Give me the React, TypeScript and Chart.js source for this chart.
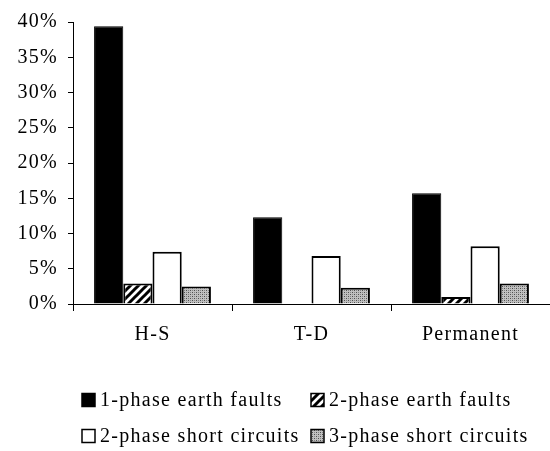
import { useEffect, useRef } from 'react';
import { Chart, registerables } from 'chart.js';

Chart.register(...registerables);

const categories = ['H-S', 'T-D', 'Permanent'];
const seriesNames = [
  '1-phase earth faults',
  '2-phase earth faults',
  '2-phase short circuits',
  '3-phase short circuits',
];
const onePhaseEarth = [39.4, 12.3, 15.7];
const twoPhaseEarth = [2.9, 0, 1.0];
const twoPhaseShort = [7.4, 6.8, 8.2];
const threePhaseShort = [2.5, 2.3, 2.9];
const yMin = 0;
const yMax = 40;
const yStep = 5;

const FONT = '"Liberation Serif", "Times New Roman", serif';
const SPACING = '1.3px';

function makeHatch(ctx: CanvasRenderingContext2D) {
  const c = document.createElement('canvas');
  c.width = 8;
  c.height = 8;
  const g = c.getContext('2d')!;
  g.fillStyle = '#fff';
  g.fillRect(0, 0, 8, 8);
  g.strokeStyle = '#000';
  g.lineWidth = 3;
  g.beginPath();
  g.moveTo(-2, 10);
  g.lineTo(10, -2);
  g.moveTo(-6, 6);
  g.lineTo(6, -6);
  g.moveTo(2, 14);
  g.lineTo(14, 2);
  g.stroke();
  return ctx.createPattern(c, 'repeat')!;
}

function makeStipple(ctx: CanvasRenderingContext2D) {
  const c = document.createElement('canvas');
  c.width = 4;
  c.height = 4;
  const g = c.getContext('2d')!;
  g.fillStyle = '#c0c0c0';
  g.fillRect(0, 0, 4, 4);
  g.fillStyle = '#505050';
  g.fillRect(0, 0, 1, 1);
  g.fillRect(2, 2, 1, 1);
  g.fillStyle = '#858585';
  g.fillRect(2, 0, 1, 1);
  g.fillRect(0, 2, 1, 1);
  return ctx.createPattern(c, 'repeat')!;
}

const spacingPlugin = {
  id: 'letterSpacing',
  beforeUpdate(chart: any) {
    chart.ctx.letterSpacing = SPACING;
  },
  beforeDraw(chart: any) {
    chart.ctx.letterSpacing = SPACING;
  },
};

const gridLegendPlugin = {
  id: 'gridLegend',
  afterDraw(chart: any) {
    const ctx = chart.ctx as CanvasRenderingContext2D;
    const cols = [82, 311];
    const rows = [400, 436];
    const box = 13;
    const gap = 5;
    ctx.save();
    (ctx as any).letterSpacing = SPACING;
    ctx.font = `20px ${FONT}`;
    ctx.textBaseline = 'middle';
    ctx.textAlign = 'left';
    chart.data.datasets.forEach((ds: any, i: number) => {
      const x = cols[i % 2];
      const y = rows[Math.floor(i / 2)];
      ctx.fillStyle = ds.backgroundColor;
      ctx.fillRect(x, y - box / 2, box, box);
      ctx.strokeStyle = '#000';
      ctx.lineWidth = 1.5;
      ctx.strokeRect(x, y - box / 2, box, box);
      ctx.fillStyle = '#000';
      ctx.fillText(ds.label, x + box + gap, y + 1);
    });
    ctx.restore();
  },
};

export default function App() {
  const ref = useRef<HTMLCanvasElement>(null);

  useEffect(() => {
    const canvas = ref.current!;
    const ctx = canvas.getContext('2d')!;
    const hatch = makeHatch(ctx);
    const stipple = makeStipple(ctx);
    const chart = new Chart(canvas, {
      type: 'bar',
      data: {
        labels: categories,
        datasets: [
          { label: seriesNames[0], data: onePhaseEarth, backgroundColor: '#000', borderColor: '#000', borderWidth: 1 },
          { label: seriesNames[1], data: twoPhaseEarth, backgroundColor: hatch as any, borderColor: '#000', borderWidth: 2 },
          { label: seriesNames[2], data: twoPhaseShort, backgroundColor: '#fff', borderColor: '#000', borderWidth: 2 },
          { label: seriesNames[3], data: threePhaseShort, backgroundColor: stipple as any, borderColor: '#000', borderWidth: 2 },
        ],
      },
      options: {
        responsive: false,
        animation: false,
        devicePixelRatio: 1,
        categoryPercentage: 0.735,
        barPercentage: 1,
        layout: { padding: { top: 19, bottom: 102, left: 0, right: 0 } },
        plugins: {
          legend: { display: false },
          tooltip: { enabled: false },
        },
        scales: {
          x: {
            grid: { offset: true, drawOnChartArea: false, drawTicks: true, tickLength: 7, color: '#000', lineWidth: 1 },
            border: { display: true, color: '#000', width: 1 },
            ticks: { color: '#000', font: { family: FONT, size: 20 }, padding: 12, maxRotation: 0 },
            afterFit: (s: any) => { s.height = 45; },
          },
          y: {
            min: yMin,
            max: yMax,
            ticks: { stepSize: yStep, color: '#000', font: { family: FONT, size: 20 }, padding: 10, callback: (v: any) => `${v}%` },
            grid: { drawOnChartArea: false, drawTicks: true, tickLength: 5, color: '#000', lineWidth: 1 },
            border: { display: true, color: '#000', width: 1 },
            afterFit: (s: any) => { s.width = 73; },
          },
        },
      } as any,
      plugins: [spacingPlugin, gridLegendPlugin],
    });
    return () => chart.destroy();
  }, []);

  return (
    <div style={{ position: 'fixed', left: 0, top: 0, width: 550, height: 451, background: '#fff' }}>
      <canvas ref={ref} width={550} height={451} style={{ display: 'block' }} />
    </div>
  );
}
